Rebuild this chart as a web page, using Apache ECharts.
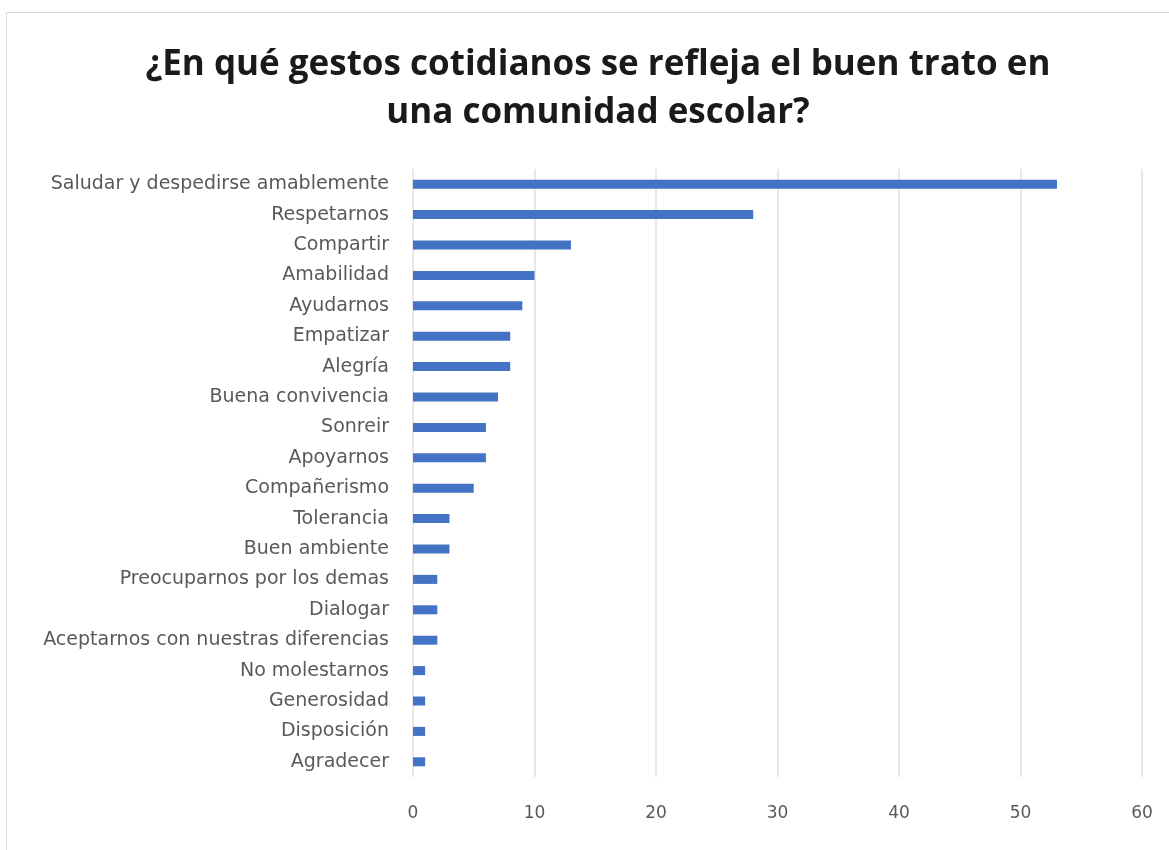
<!DOCTYPE html>
<html>
<head>
<meta charset="utf-8">
<script src="https://cdn.jsdelivr.net/npm/echarts@6/dist/echarts.min.js"></script>
<style>
html,body{margin:0;padding:0;background:#fff;}
#frame{position:absolute;left:6px;top:12px;width:1170px;height:840px;border:1px solid #d9d9d9;box-sizing:border-box;}
#c{position:absolute;left:0;top:0;width:1169px;height:850px;}
</style>
</head>
<body>
<div id="frame"></div>
<div id="c"></div>
<script>
const titleText = "¿En qué gestos cotidianos se refleja el buen trato en\nuna comunidad escolar?";
const categories = [
  "Saludar y despedirse amablemente",
  "Respetarnos",
  "Compartir",
  "Amabilidad",
  "Ayudarnos",
  "Empatizar",
  "Alegría",
  "Buena convivencia",
  "Sonreir",
  "Apoyarnos",
  "Compañerismo",
  "Tolerancia",
  "Buen ambiente",
  "Preocuparnos por los demas",
  "Dialogar",
  "Aceptarnos con nuestras diferencias",
  "No molestarnos",
  "Generosidad",
  "Disposición",
  "Agradecer"
];
const values = [53, 28, 13, 10, 9, 8, 8, 7, 6, 6, 5, 3, 3, 2, 2, 2, 1, 1, 1, 1];
const xTicks = [0, 10, 20, 30, 40, 50, 60];

const chart = echarts.init(document.getElementById('c'));
chart.setOption({
  backgroundColor: 'transparent',
  animation: false,
  title: {
    text: titleText,
    left: 593,
    textAlign: 'center',
    top: 36,
    textStyle: {
      fontFamily: '"Open Sans", sans-serif',
      fontWeight: 'bold',
      fontSize: 35,
      lineHeight: 48,
      color: '#1a1a1a'
    }
  },
  grid: { left: 413, right: 27, top: 169, bottom: 73, containLabel: false },
  xAxis: {
    type: 'value',
    min: 0, max: 60, interval: 10,
    axisLine: { show: false },
    axisTick: { show: false },
    splitLine: { lineStyle: { color: '#e0e0e0', width: 1.5 } },
    axisLabel: { color: '#595959', fontSize: 17, margin: 28, fontFamily: '"DejaVu Sans", sans-serif',
      formatter: v => xTicks.includes(v) ? String(v) : '' }
  },
  yAxis: {
    type: 'category',
    data: categories,
    inverse: true,
    axisLine: { show: false },
    axisTick: { show: false },
    axisLabel: { color: '#595959', fontSize: 19, margin: 24, fontFamily: '"DejaVu Sans", sans-serif' }
  },
  series: [{
    type: 'bar',
    data: values,
    barWidth: 9,
    itemStyle: { color: '#4472C4' }
  }]
});
</script>
</body>
</html>
